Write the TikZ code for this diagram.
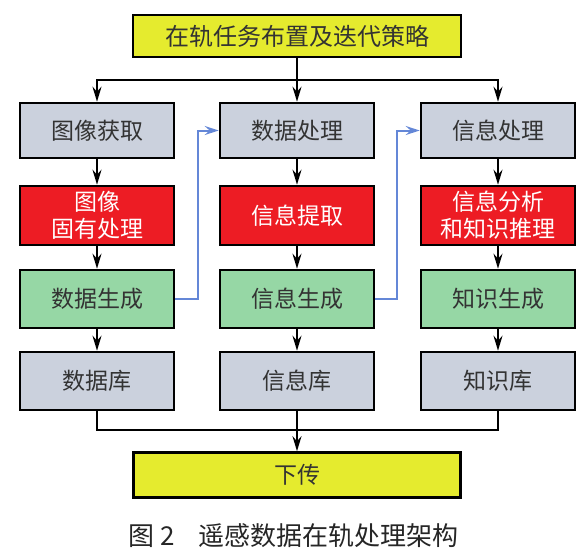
\documentclass[tikz,border=0pt]{standalone}
\usepackage{fontspec}
\newfontfamily\cjk{Noto Sans CJK SC}
\usetikzlibrary{arrows.meta}
\definecolor{byellow}{RGB}{229,235,46}
\definecolor{bgray}{RGB}{203,209,221}
\definecolor{bred}{RGB}{237,28,36}
\definecolor{bgreen}{RGB}{150,215,165}
\definecolor{lblue}{RGB}{100,135,215}
\begin{document}
\begin{tikzpicture}[x=1pt,y=-1pt,
  box/.style={draw=black, line width=2.6pt, minimum width=154pt, align=center, inner sep=0pt,
    font=\cjk\fontsize{23}{27}\selectfont},
  graybox/.style={box, fill=bgray, text=black!80},
  redbox/.style={box, fill=bred, text=white},
  greenbox/.style={box, fill=bgreen, text=black!80},
  yelbox/.style={box, fill=byellow, text=black!80},
  conn/.style={draw=black, line width=2pt},
  arr/.style={conn, -{Stealth[length=15pt,width=9pt,inset=5pt]}},
  barr/.style={draw=lblue, line width=2pt, -{Stealth[length=14pt,width=9pt,inset=5pt]}}
]
\useasboundingbox (0,0) rectangle (584,555);
% top
\node[yelbox, minimum width=328pt, minimum height=42pt, font=\cjk\fontsize{24}{27}\selectfont] (top) at (297,36) {在轨任务布置及迭代策略};
% row 1
\node[graybox, minimum height=55pt] (a1) at (97,130.5) {图像获取};
\node[graybox, minimum height=55pt] (b1) at (297,130.5) {数据处理};
\node[graybox, minimum height=55pt] (c1) at (498,130.5) {信息处理};
% row 2
\node[redbox, minimum height=59pt] (a2) at (97,215.5) {图像\\固有处理};
\node[redbox, minimum height=59pt] (b2) at (297,215.5) {信息提取};
\node[redbox, minimum height=59pt] (c2) at (498,215.5) {信息分析\\和知识推理};
% row 3
\node[greenbox, minimum height=58pt] (a3) at (97,299) {数据生成};
\node[greenbox, minimum height=58pt] (b3) at (297,299) {信息生成};
\node[greenbox, minimum height=58pt] (c3) at (498,299) {知识生成};
% row 4
\node[graybox, minimum height=58pt] (a4) at (97,381) {数据库};
\node[graybox, minimum height=58pt] (b4) at (297,381) {信息库};
\node[graybox, minimum height=58pt] (c4) at (498,381) {知识库};
% bottom
\node[yelbox, minimum width=327pt, minimum height=45pt] (bot) at (297,475) {下传};
% caption
\node[font=\cjk\fontsize{26}{30}\selectfont, text=black!85] (cap) at (293.5,536) {图\hspace{6pt}2\hspace{24pt}遥感数据在轨处理架构};
% split from top
\coordinate (split) at (297,80);
\draw[conn] (top) -- (split);
\draw[arr] (split) -| (a1);
\draw[arr] (split) -| (c1);
\draw[arr] (split) -- (b1);
% vertical chains
\foreach \c in {a,b,c}{
  \draw[arr] (\c1) -- (\c2);
  \draw[arr] (\c2) -- (\c3);
  \draw[arr] (\c3) -- (\c4);
}
% merge
\coordinate (merge) at (297,430);
\draw[conn] (a4) |- (merge);
\draw[conn] (c4) |- (merge);
\draw[arr] (b4) -- (bot);
% blue links
\coordinate (j1) at (198,130.5);
\coordinate (j2) at (397,130.5);
\draw[barr] (a3.east) -| (j1) -- (b1.west);
\draw[barr] (b3.east) -| (j2) -- (c1.west);
\end{tikzpicture}
\end{document}
